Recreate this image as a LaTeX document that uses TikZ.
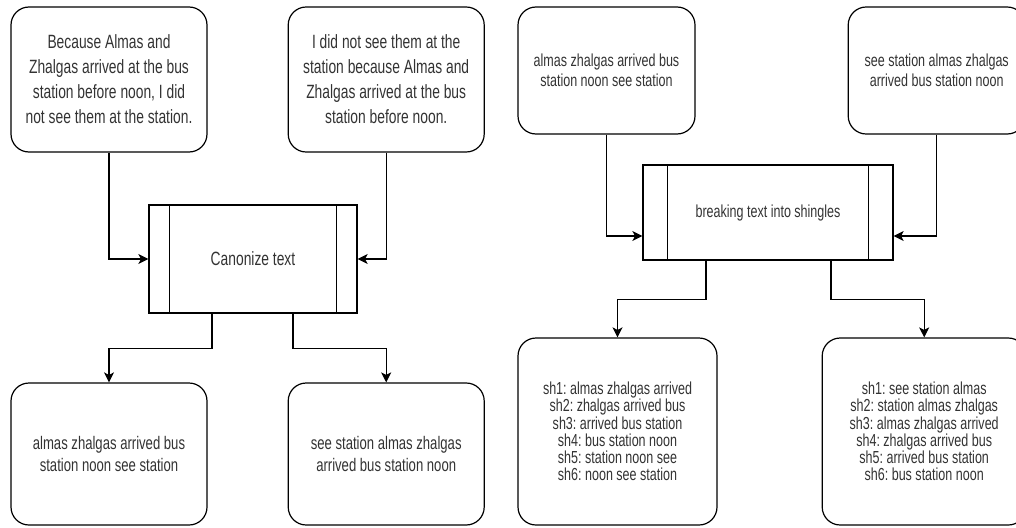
\documentclass[tikz,border=0pt]{standalone}
\usepackage{fontspec}
\setmainfont[FakeStretch=0.72]{Liberation Sans}
\usetikzlibrary{arrows.meta, positioning}
\frenchspacing

\begin{document}
\begin{tikzpicture}[x=1pt, y=-1pt,
  box/.style={rectangle, rounded corners=18pt, draw=black, line width=1.2pt,
              align=center, text=black!80, inner sep=2pt},
  proc/.style={rectangle, draw=black, line width=1.2pt, align=center,
               text=black!80, inner sep=2pt},
  arr/.style={-{Stealth[length=10pt, width=10pt, inset=2.5pt]}, line width=1.2pt},
  sentfont/.style={font=\fontsize{19.2}{25}\selectfont},
  canfont/.style={font=\fontsize{18.2}{21.7}\selectfont},
  tokfont/.style={font=\fontsize{17.4}{20}\selectfont},
  shfont/.style={font=\fontsize{17.4}{17.3}\selectfont}
]
\useasboundingbox (0,0) rectangle (1016,527);
\clip (0,0) rectangle (1016,527);

\node[box, sentfont, minimum width=196pt, minimum height=145pt] (sent1) at (109,79.5)
  {Because Almas and\\Zhalgas arrived at the bus\\station before noon, I did\\not see them at the station.};
\node[box, sentfont, minimum width=196pt, minimum height=145pt, right=80pt of sent1] (sent2)
  {I did not see them at the\\station because Almas and\\Zhalgas arrived at the bus\\station before noon.};
\node[proc, sentfont, minimum width=208pt, minimum height=108pt] (canon) at (253,259) {Canonize text};
\node[box, canfont, minimum width=196pt, minimum height=142pt] (can1) at (109,454)
  {almas zhalgas arrived bus\\station noon see station};
\node[box, canfont, minimum width=196pt, minimum height=142pt, right=80pt of can1] (can2)
  {see station almas zhalgas\\arrived bus station noon};

\draw[arr] (sent1.south) |- (canon.west);
\draw[arr] (sent2.south) |- (canon.east);
\draw[arr] ([xshift=-41pt]canon.south) -- ++(0,35) -| (can1.north);
\draw[arr] ([xshift=40pt]canon.south) -- ++(0,35) -| (can2.north);

\node[box, tokfont, minimum width=177pt, minimum height=127pt] (tok1) at (606.5,70.5)
  {almas zhalgas arrived bus\\station noon see station};
\node[box, tokfont, minimum width=177pt, minimum height=127pt, right=152pt of tok1] (tok2)
  {see station almas zhalgas\\arrived bus station noon};
\node[proc, tokfont, minimum width=250pt, minimum height=95pt] (shing) at (768,212.5)
  {breaking text into shingles};
\node[box, shfont, minimum width=199pt, minimum height=187pt] (sh1) at (617.5,431.5)
  {sh1: almas zhalgas arrived\\sh2: zhalgas arrived bus\\sh3: arrived bus station\\sh4: bus station noon\\sh5: station noon see\\sh6: noon see station};
\node[box, shfont, minimum width=204pt, minimum height=187pt, right=104pt of sh1] (sh2)
  {sh1: see station almas\\sh2: station almas zhalgas\\sh3: almas zhalgas arrived\\sh4: zhalgas arrived bus\\sh5: arrived bus station\\sh6: bus station noon};

\draw[arr] (tok1.south) |- ([yshift=-23.5pt]shing.west);
\draw[arr] (tok2.south) |- ([yshift=-23.5pt]shing.east);
\draw[arr] ([xshift=-62pt]shing.south) -- ++(0,39) -| (sh1.north);
\draw[arr] ([xshift=63pt]shing.south) -- ++(0,39) -| (sh2.north);

\foreach \n/\d in {canon/21, shing/25} {
  \draw[line width=1.2pt] ([xshift=\d pt]\n.north west) -- ([xshift=\d pt]\n.south west);
  \draw[line width=1.2pt] ([xshift=-\d pt]\n.north east) -- ([xshift=-\d pt]\n.south east);
}

\end{tikzpicture}
\end{document}
